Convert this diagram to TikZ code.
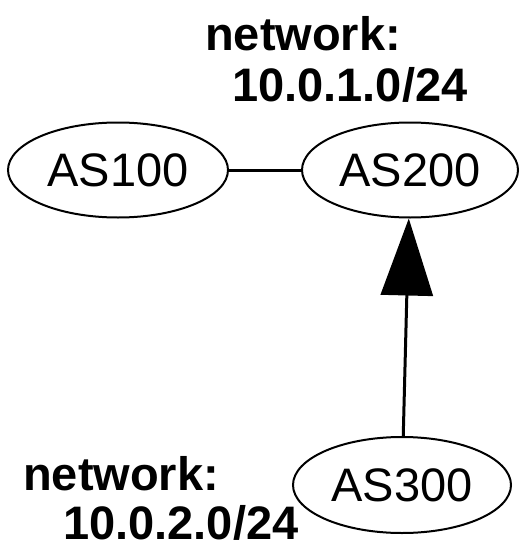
\documentclass[tikz,border=0pt]{standalone}
\usepackage{fontspec}
\setmainfont{Liberation Sans}
\usetikzlibrary{shapes.geometric,arrows.meta}
\begin{document}
\begin{tikzpicture}[x=1pt,y=-1pt,
  asnode/.style={draw,ellipse,line width=2pt,inner sep=0pt,font=\fontsize{47}{47}\selectfont},
  netlabel/.style={anchor=base west,inner sep=0pt,font=\fontsize{47}{47}\selectfont\bfseries},
  link/.style={line width=3pt}]
\useasboundingbox (0,0) rectangle (520,546);
\node[asnode,minimum width=220pt,minimum height=95pt] (as100) at (118,170) {AS100};
\node[asnode,minimum width=216pt,minimum height=95pt] (as200) at (410,170) {AS200};
\node[asnode,minimum width=218pt,minimum height=96pt] (as300) at (402,485) {AS300};
\node[netlabel] (n1a) at (205,50) {network:};
\node[netlabel] (n1b) at (232,101) {10.0.1.0/24};
\node[netlabel] (n2a) at (23,490) {network:};
\node[netlabel] (n2b) at (63,539) {10.0.2.0/24};
\draw[link] (as100) -- (as200);
\draw[link,-{Triangle[length=77pt,width=52pt]}] (as300) -- (as200);
\end{tikzpicture}
\end{document}
